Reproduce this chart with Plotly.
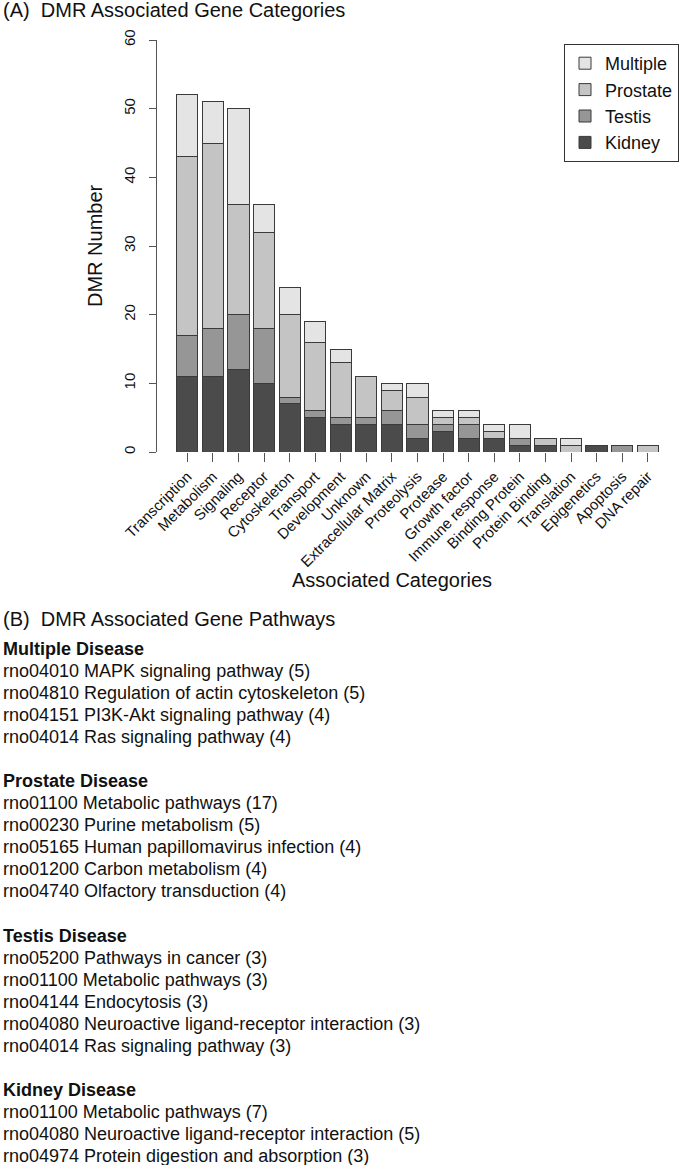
import plotly.graph_objects as go

categories = ["Transcription", "Metabolism", "Signaling", "Receptor", "Cytoskeleton",
              "Transport", "Development", "Unknown", "Extracellular Matrix", "Proteolysis",
              "Protease", "Growth factor", "Immune response", "Binding Protein",
              "Protein Binding", "Translation", "Epigenetics", "Apoptosis", "DNA repair"]
kidney = [11, 11, 12, 10, 7, 5, 4, 4, 4, 2, 3, 2, 2, 1, 1, 0, 1, 0, 0]
testis = [6, 7, 8, 8, 1, 1, 1, 1, 2, 2, 1, 2, 0, 1, 0, 0, 0, 1, 0]
prostate = [26, 27, 16, 14, 12, 10, 8, 6, 3, 4, 1, 1, 1, 0, 1, 1, 0, 0, 1]
multiple = [9, 6, 14, 4, 4, 3, 2, 0, 1, 2, 1, 1, 1, 2, 0, 1, 0, 0, 0]

series_names = ["Kidney", "Testis", "Prostate", "Multiple"]
series_values = [kidney, testis, prostate, multiple]
series_colors = ["#4b4b4b", "#969696", "#c4c4c4", "#e4e4e4"]

pathway_groups = ["Multiple Disease", "Prostate Disease", "Testis Disease", "Kidney Disease"]
multiple_pathways = ["rno04010 MAPK signaling pathway (5)",
                     "rno04810 Regulation of actin cytoskeleton (5)",
                     "rno04151 PI3K-Akt signaling pathway (4)",
                     "rno04014 Ras signaling pathway (4)"]
prostate_pathways = ["rno01100 Metabolic pathways (17)",
                     "rno00230 Purine metabolism (5)",
                     "rno05165 Human papillomavirus infection (4)",
                     "rno01200 Carbon metabolism (4)",
                     "rno04740 Olfactory transduction (4)"]
testis_pathways = ["rno05200 Pathways in cancer (3)",
                   "rno01100 Metabolic pathways (3)",
                   "rno04144 Endocytosis (3)",
                   "rno04080 Neuroactive ligand-receptor interaction (3)",
                   "rno04014 Ras signaling pathway (3)"]
kidney_pathways = ["rno01100 Metabolic pathways (7)",
                   "rno04080 Neuroactive ligand-receptor interaction (5)",
                   "rno04974 Protein digestion and absorption (3)"]
pathway_lists = [multiple_pathways, prostate_pathways, testis_pathways, kidney_pathways]

FONT = "Liberation Sans, Arial, Helvetica, sans-serif"
W, H = 691, 1165
L, R, T, B = 157, 11, 40, 713
PW = W - L - R
PH = H - T - B


def px(xp):
    return (xp - L) / PW


def py(yp):
    return (H - B - yp) / PH


fig = go.Figure()
for name, vals, col in zip(series_names, series_values, series_colors):
    fig.add_trace(go.Bar(
        x=categories, y=vals, name=name,
        marker=dict(color=col, line=dict(color="#3a3a3a", width=1)),
    ))


def note(text, xp, yp, size, **kw):
    d = dict(text=text, x=px(xp), y=py(yp), xref="paper", yref="paper",
             xanchor="left", yanchor="middle", showarrow=False,
             font=dict(size=size, color="#111"))
    d.update(kw)
    return d


annotations = [
    note("(A)\u00a0\u00a0DMR Associated Gene Categories", 1, 10, 20),
    note("DMR Number", 95, 246, 20, textangle=-90, xanchor="center"),
    note("Associated Categories", 392, 580, 20, xanchor="center"),
    note("(B)\u00a0\u00a0DMR Associated Gene Pathways", 1, 619, 20),
]

line_h = 22.04
y0 = 649
idx = 0
for gname, plist in zip(pathway_groups, pathway_lists):
    annotations.append(note("<b>" + gname + "</b>", 1, y0 + idx * line_h, 18))
    idx += 1
    for p in plist:
        annotations.append(note(p, 1, y0 + idx * line_h, 18))
        idx += 1
    idx += 1

fig.update_layout(
    width=W, height=H,
    margin=dict(l=L, r=R, t=T, b=B, pad=0, autoexpand=False),
    barmode="stack", bargap=0.17,
    paper_bgcolor="white", plot_bgcolor="white",
    font=dict(family=FONT, color="#111"),
    showlegend=True,
    legend=dict(traceorder="reversed", x=px(564), y=py(44), xanchor="left", yanchor="top",
                bordercolor="#333", borderwidth=1, bgcolor="white",
                font=dict(size=18, color="#111")),
    annotations=annotations,
)
fig.update_xaxes(range=[-1.184, 19.26], showline=False, showgrid=False, zeroline=False,
                 ticks="outside", ticklen=9, tickcolor="#555", tickwidth=1,
                 tickangle=-45, tickfont=dict(size=15, color="#111"))
fig.update_yaxes(range=[0, 60], showline=True, linecolor="#555", linewidth=1,
                 showgrid=False, zeroline=False, ticks="outside", ticklen=7,
                 tickcolor="#555", tickvals=[0, 10, 20, 30, 40, 50, 60],
                 tickangle=-90, ticklabelstandoff=8, tickfont=dict(size=15, color="#111"))

fig.write_html("out.html", config={"displayModeBar": False},
               post_script="document.body.style.margin='0';")
